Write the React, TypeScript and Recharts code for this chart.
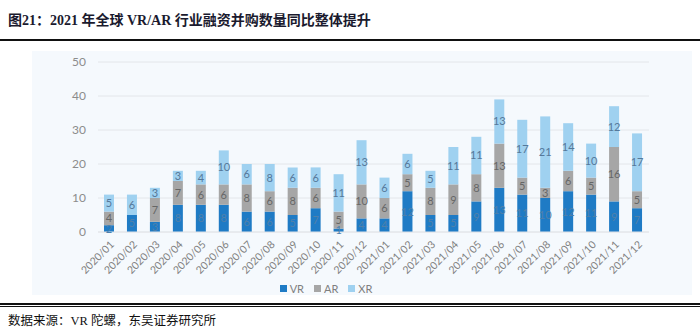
import React from "react";
import { Bar, BarChart, CartesianGrid, LabelList, Legend, XAxis, YAxis } from "recharts";

const months = [
  "2020/01", "2020/02", "2020/03", "2020/04", "2020/05", "2020/06",
  "2020/07", "2020/08", "2020/09", "2020/10", "2020/11", "2020/12",
  "2021/01", "2021/02", "2021/03", "2021/04", "2021/05", "2021/06",
  "2021/07", "2021/08", "2021/09", "2021/10", "2021/11", "2021/12",
];
const vr = [2, 5, 3, 8, 8, 8, 6, 6, 5, 7, 1, 4, 4, 12, 5, 5, 9, 13, 11, 10, 12, 11, 9, 7];
const ar = [4, 0, 7, 7, 6, 6, 8, 6, 8, 6, 5, 10, 6, 5, 8, 9, 8, 13, 5, 3, 6, 5, 16, 5];
const xr = [5, 6, 3, 3, 4, 10, 6, 8, 6, 6, 11, 13, 6, 6, 5, 11, 11, 13, 17, 21, 14, 10, 12, 17];
const yTicks = [0, 10, 20, 30, 40, 50];

const data = months.map((m, i) => ({ month: m, VR: vr[i], AR: ar[i], XR: xr[i] }));

const series = [
  { key: "VR", color: "#1f7bc5", text: "#4f80ab" },
  { key: "AR", color: "#a6a6a6", text: "#666666" },
  { key: "XR", color: "#9fd1f0", text: "#55789a" },
];

const sansFont = "Lato, 'Noto Sans', sans-serif";
const serifFont = "'Liberation Serif', 'Noto Sans CJK SC', serif";

const hideZero = (v: any) => (v ? v : "");

function LegendBox() {
  return (
    <div style={{ display: "flex", justifyContent: "center", gap: 10, height: 14, alignItems: "center", fontFamily: sansFont, fontSize: 11, color: "#7f7f7f" }}>
      {series.map((s) => (
        <span key={s.key} style={{ display: "flex", alignItems: "center", gap: 3 }}>
          <span style={{ width: 7, height: 7, background: s.color, display: "inline-block" }} />
          {s.key}
        </span>
      ))}
    </div>
  );
}

export default function App() {
  return (
    <div style={{ position: "absolute", left: 0, top: 0, width: 700, height: 332, background: "#fff", overflow: "hidden" }}>
      <div style={{ position: "absolute", left: 8, top: 9, fontFamily: serifFont, fontWeight: "bold", fontSize: 14, color: "#1a1a2e" }}>
        图21：2021 年全球 VR/AR 行业融资并购数量同比整体提升
      </div>
      <div style={{ position: "absolute", left: 0, top: 39, width: 700, height: 2, background: "#111" }} />
      <div style={{ position: "absolute", left: 32, top: 51, width: 660, height: 244, background: "#f5f9fd" }}>
        <BarChart width={660} height={244} data={data} margin={{ top: 11, right: 43, bottom: 0, left: 0 }} barSize={10}>
          <CartesianGrid vertical={false} stroke="#e3e6ea" />
          <XAxis
            dataKey="month"
            interval={0}
            axisLine={{ stroke: "#e3e6ea" }}
            tickLine={false}
            height={49}
            angle={-45}
            textAnchor="end"
            tick={{ fontSize: 10.5, fill: "#7f7f7f", fontFamily: sansFont }}
          />
          <YAxis
            width={66}
            domain={[0, 50]}
            ticks={yTicks}
            axisLine={false}
            tickLine={false}
            tickMargin={6}
            tick={{ fontSize: 12, fill: "#8c8c8c", fontFamily: sansFont }}
          />
          <Legend
            verticalAlign="bottom"
            content={() => <LegendBox />}
            wrapperStyle={{ left: 244, width: 100 }}
          />
          {series.map((s) => (
            <Bar key={s.key} dataKey={s.key} stackId="a" fill={s.color} isAnimationActive={false}>
              <LabelList
                dataKey={s.key}
                position="center"
                formatter={hideZero}
                style={{ fontSize: 11, fill: s.text, fontFamily: sansFont }}
              />
            </Bar>
          ))}
        </BarChart>
      </div>
      <div style={{ position: "absolute", left: 0, top: 303, width: 700, height: 2, background: "#111" }} />
      <div style={{ position: "absolute", left: 0, top: 306, width: 700, height: 1, background: "#111" }} />
      <div style={{ position: "absolute", left: 8, top: 310, fontFamily: serifFont, fontSize: 12.5, color: "#111" }}>
        数据来源：VR 陀螺，东吴证券研究所
      </div>
    </div>
  );
}
